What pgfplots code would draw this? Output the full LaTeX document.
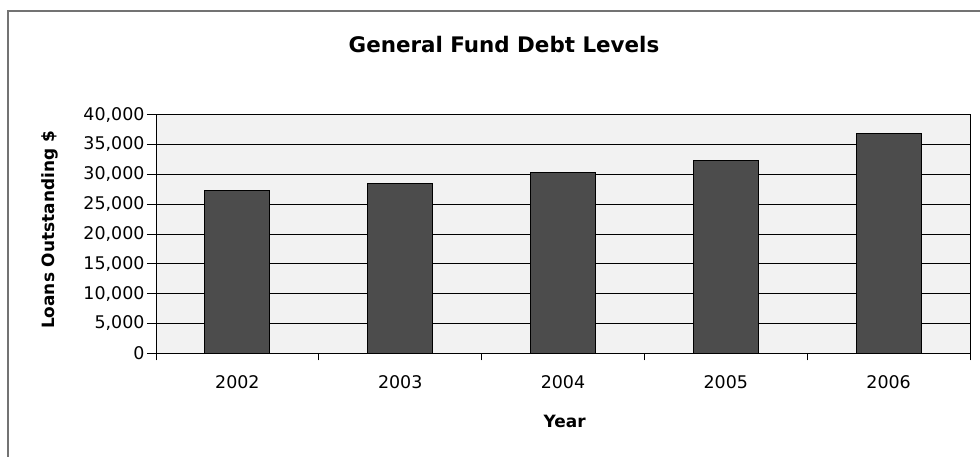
\documentclass[border=0pt]{standalone}
\usepackage{pgfplots}
\pgfplotsset{compat=1.18}
\usepackage{fontspec}
\setmainfont{DejaVu Sans}
\begin{document}
\begin{tikzpicture}
\useasboundingbox (0,0) rectangle (980bp,457bp);
\draw[black!55, line width=1.5bp] (8bp,446bp) rectangle (1010bp,-20bp);
\begin{axis}[
  at={(156bp,103.7bp)}, anchor=south west,
  width=814bp, height=238.6bp, scale only axis,
  ybar, bar width=0.4,
  xmin=-0.5, xmax=4.5, ymin=0, ymax=40000,
  ytick={0,5000,...,40000},
  scaled y ticks=false,
  xtick={0,1,2,3,4}, xticklabels={2002,2003,2004,2005,2006},
  minor xtick={-0.5,0.5,1.5,2.5,3.5,4.5},
  major x tick style={draw=none},
  tick align=outside, tick pos=left,
  major tick length=9bp, minor tick length=7bp,
  tick style={black, line width=1bp},
  ymajorgrids, grid style={black, line width=1bp},
  axis line style={black, line width=1bp},
  axis background/.style={fill=black!5},
  ticklabel style={font=\fontsize{17.5}{20}\selectfont},
  y tick label style={xshift=1bp},
  x tick label style={yshift=-10bp},
  /pgf/number format/assume math mode=true,
  title={General Fund Debt Levels},
  title style={font=\bfseries\fontsize{21.5}{25}\selectfont, at={(axis description cs:0.4275,1.268)}, anchor=center},
  ylabel={Loans Outstanding \$},
  ylabel style={font=\bfseries\fontsize{17}{19}\selectfont, at={(axis description cs:-0.130,0.517)}, anchor=center},
  xlabel={Year},
  xlabel style={font=\bfseries\fontsize{17}{20}\selectfont, at={(axis description cs:0.502,-0.284)}, anchor=center},
]
\addplot[fill=black!70, draw=black, line width=1bp] coordinates {(0,27300) (1,28400) (2,30300) (3,32400) (4,36900)};
\end{axis}
\end{tikzpicture}
\end{document}
